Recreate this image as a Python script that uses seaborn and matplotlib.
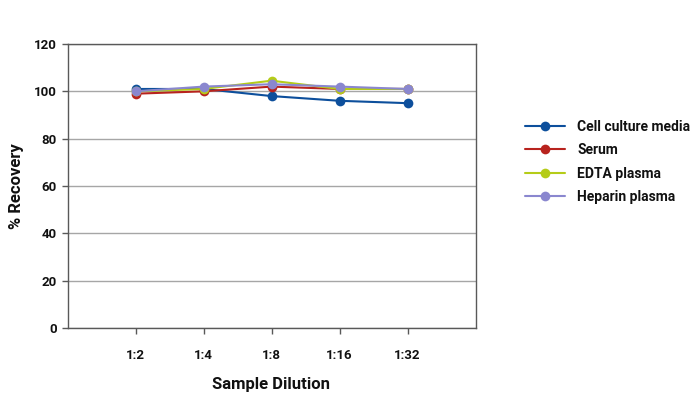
import matplotlib
matplotlib.use("Agg")
import matplotlib.pyplot as plt
import seaborn as sns
import pandas as pd

dilutions = ['1:2', '1:4', '1:8', '1:16', '1:32']

cell_culture = [101, 101, 98, 96, 95]
serum = [99, 100, 102, 101, 101]
edta_plasma = [100, 101, 104.5, 101, 101]
heparin_plasma = [100, 102, 103, 102, 101]

series_names = ['Cell culture media', 'Serum', 'EDTA plasma', 'Heparin plasma']
series_values = [cell_culture, serum, edta_plasma, heparin_plasma]
colors = ['#0d4f9c', '#b8231e', '#b5cc18', '#8a87cf']

# long-form table for seaborn
rows = []
for name, vals in zip(series_names, series_values):
    for i, (d, v) in enumerate(zip(dilutions, vals)):
        rows.append({'pos': i + 1, 'Dilution': d, 'Recovery': v, 'Sample': name})
df = pd.DataFrame(rows)

sns.set_style('white')
plt.rcParams['font.family'] = ['Roboto', 'DejaVu Sans']
plt.rcParams['text.color'] = '#111111'
plt.rcParams['axes.labelcolor'] = '#111111'
plt.rcParams['xtick.color'] = '#111111'
plt.rcParams['ytick.color'] = '#111111'

fig = plt.figure(figsize=(6.94, 3.96), dpi=100)
ax = fig.add_axes([67.5 / 694, 1 - 328 / 396, 408 / 694, 284 / 396])

sns.lineplot(
    data=df,
    x='pos',
    y='Recovery',
    hue='Sample',
    hue_order=series_names,
    palette=colors,
    marker='o',
    markersize=7,
    markeredgewidth=0,
    linewidth=1.5,
    ax=ax
)

ax.set_xlim(0, 6)
ax.set_ylim(0, 120)
ax.set_yticks(range(0, 121, 20))
ax.set_xticks(range(1, 6))
ax.set_xticklabels(dilutions)

ax.yaxis.grid(True, color='#a6a6a6', linewidth=1)
ax.set_axisbelow(True)

for s in ax.spines.values():
    s.set_color('#595959')
    s.set_linewidth(1)

ax.tick_params(axis='both', which='both', length=4, width=1,
               direction='out', labelsize=9.5,
               bottom=True, left=True)
ax.tick_params(axis='x', pad=11)
ax.tick_params(axis='both', color='#595959')
for lbl in ax.get_xticklabels() + ax.get_yticklabels():
    lbl.set_fontweight('bold')

ax.set_xlabel('Sample Dilution', fontsize=12, fontweight='bold', labelpad=11)
ax.set_ylabel('% Recovery', fontsize=12, fontweight='bold', labelpad=7)

leg = ax.legend(
    loc='center left',
    bbox_to_anchor=(1.09, 0.585),
    frameon=False,
    handlelength=2.9,
    handletextpad=0.9,
    labelspacing=0.68,
    prop={'weight': 'bold', 'size': 10}
)

plt.savefig('out.png', dpi=100)
plt.close()
